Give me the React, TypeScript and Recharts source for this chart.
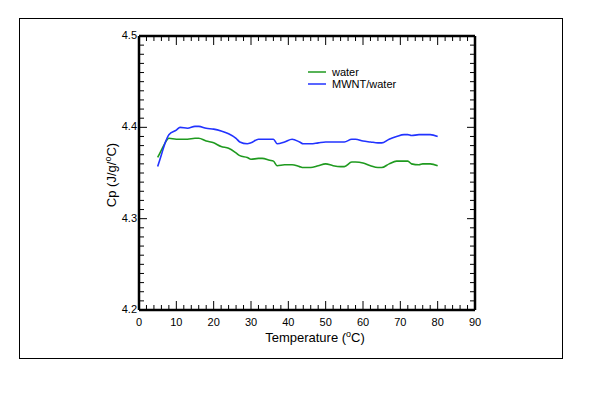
import React from 'react';
import { LineChart, Line, XAxis, YAxis } from 'recharts';

const temps = [5, 6, 7, 8, 10, 11, 13, 15, 16, 18, 20, 22, 24, 26, 27, 29, 30, 32, 33, 35, 36, 37, 39, 41, 43, 44, 46, 48, 50, 52, 54, 55, 57, 58, 60, 62, 64, 65, 67, 69, 71, 72, 73, 75, 76, 78, 80];
const water = [4.367, 4.375, 4.383, 4.388, 4.387, 4.387, 4.387, 4.388, 4.388, 4.385, 4.383, 4.379, 4.377, 4.372, 4.369, 4.367, 4.365, 4.366, 4.366, 4.364, 4.363, 4.358, 4.359, 4.359, 4.357, 4.356, 4.356, 4.358, 4.360, 4.358, 4.357, 4.357, 4.362, 4.362, 4.361, 4.358, 4.356, 4.356, 4.360, 4.363, 4.363, 4.363, 4.360, 4.359, 4.360, 4.360, 4.358];
const mwnt = [4.357, 4.370, 4.383, 4.392, 4.397, 4.400, 4.399, 4.401, 4.401, 4.399, 4.398, 4.396, 4.393, 4.388, 4.384, 4.382, 4.383, 4.387, 4.387, 4.387, 4.387, 4.382, 4.384, 4.387, 4.384, 4.382, 4.382, 4.383, 4.384, 4.384, 4.384, 4.384, 4.387, 4.387, 4.385, 4.384, 4.383, 4.383, 4.387, 4.390, 4.392, 4.392, 4.391, 4.392, 4.392, 4.392, 4.390];

const xTicks = Array.from({ length: 46 }, (_, i) => i * 2);
const yTicks = Array.from({ length: 31 }, (_, i) => Number((4.2 + i * 0.01).toFixed(2)));

const seriesNames = ['water', 'MWNT/water'];
const seriesColors = ['#1f9a1f', '#2233ff'];

const data = temps.map((t, i) => ({ t, water: water[i], mwnt: mwnt[i] }));

const FONT = '"Liberation Sans", Arial, sans-serif';

const isMajorX = (v: number) => Math.abs(v % 10) < 1e-6;
const isMajorY = (v: number) => Math.abs(v * 10 - Math.round(v * 10)) < 1e-6;

const XTick = (props: any) => {
  const { x, y, payload, top } = props;
  const v = payload.value;
  const major = isMajorX(v);
  const len = major ? 9 : 5;
  return (
    <g>
      <line x1={x} x2={x} y1={y} y2={top ? y + len : y - len} stroke="#000" strokeWidth={1} />
      {!top && major && (
        <text x={x} y={y + 16} textAnchor="middle" fontSize={11} fontFamily={FONT} fill="#000">
          {v}
        </text>
      )}
    </g>
  );
};

const YTick = (props: any) => {
  const { x, y, payload, right } = props;
  const v = payload.value;
  const major = isMajorY(v);
  const len = major ? 8 : 5;
  return (
    <g>
      <line x1={x} x2={right ? x - len : x + len} y1={y} y2={y} stroke="#000" strokeWidth={1} />
      {!right && major && (
        <text x={x - 2} y={y + 3} textAnchor="end" fontSize={11} fontFamily={FONT} fill="#000">
          {v.toFixed(1)}
        </text>
      )}
    </g>
  );
};

export default function App() {
  return (
    <div style={{ position: 'absolute', left: 0, top: 0, width: 600, height: 400, background: '#fff' }}>
      <div
        style={{
          position: 'absolute',
          left: 19,
          top: 18,
          width: 544,
          height: 341,
          border: '1px solid #000',
          boxSizing: 'border-box',
        }}
      />
      <div style={{ position: 'absolute', left: 0, top: 0 }}>
        <LineChart width={600} height={400} data={data} margin={{ top: 35, right: 124, bottom: 50, left: 0 }}>
          <XAxis
            dataKey="t"
            type="number"
            domain={[0, 90]}
            ticks={xTicks}
            interval={0}
            tickSize={0}
            tickMargin={0}
            height={40}
            axisLine={{ stroke: '#000', strokeWidth: 2.5 }}
            tickLine={false}
            tick={<XTick />}
            label={{
              content: () => (
                <text x={315} y={342} textAnchor="middle" fontSize={13} fontFamily={FONT} fill="#000">
                  Temperature (<tspan fontSize={9} dy={-5}>o</tspan>
                  <tspan dy={5}>C)</tspan>
                </text>
              ),
            }}
          />
          <XAxis
            xAxisId="top"
            orientation="top"
            dataKey="t"
            type="number"
            domain={[0, 90]}
            ticks={xTicks}
            interval={0}
            tickSize={0}
            tickMargin={0}
            height={1}
            axisLine={{ stroke: '#000', strokeWidth: 2.5 }}
            tickLine={false}
            tick={<XTick top />}
          />
          <YAxis
            type="number"
            domain={[4.2, 4.5]}
            ticks={yTicks}
            interval={0}
            allowDataOverflow
            tickSize={0}
            tickMargin={0}
            width={139}
            axisLine={{ stroke: '#000', strokeWidth: 2.5 }}
            tickLine={false}
            tick={<YTick />}
            label={{
              content: () => (
                <text
                  transform="translate(116,175) rotate(-90)"
                  textAnchor="middle"
                  fontSize={13}
                  fontFamily={FONT}
                  fill="#000"
                >
                  Cp (J/g/<tspan fontSize={9} dy={-5}>o</tspan>
                  <tspan dy={5}>C)</tspan>
                </text>
              ),
            }}
          />
          <YAxis
            yAxisId="right"
            orientation="right"
            type="number"
            domain={[4.2, 4.5]}
            ticks={yTicks}
            interval={0}
            allowDataOverflow
            tickSize={0}
            tickMargin={0}
            width={1}
            axisLine={{ stroke: '#000', strokeWidth: 2.5 }}
            tickLine={false}
            tick={<YTick right />}
          />
          <Line
            type="monotone"
            dataKey="water"
            name={seriesNames[0]}
            stroke={seriesColors[0]}
            strokeWidth={1.6}
            dot={false}
            isAnimationActive={false}
          />
          <Line
            type="monotone"
            dataKey="mwnt"
            name={seriesNames[1]}
            stroke={seriesColors[1]}
            strokeWidth={1.6}
            dot={false}
            isAnimationActive={false}
          />
        </LineChart>
      </div>
      <svg width={130} height={30} style={{ position: 'absolute', left: 306, top: 65 }}>
        {seriesNames.map((n, i) => (
          <g key={n}>
            <line x1={2} x2={20} y1={7 + i * 12} y2={7 + i * 12} stroke={seriesColors[i]} strokeWidth={1.5} />
            <text x={26} y={11 + i * 12} fontSize={11} fontFamily={FONT} fill="#000">
              {n}
            </text>
          </g>
        ))}
      </svg>
    </div>
  );
}
